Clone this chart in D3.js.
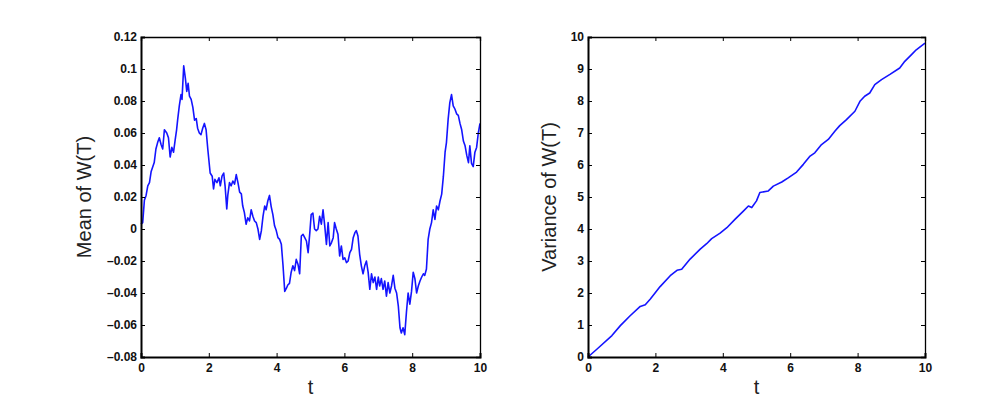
<!DOCTYPE html>
<html><head><meta charset="utf-8">
<script src="https://cdn.jsdelivr.net/npm/d3@7"></script>
<style>body{margin:0;background:#fff}svg{display:block}text{font-family:"Liberation Sans",Arial,sans-serif}</style>
</head><body><svg id="c" width="986" height="418"></svg>
<script>
// ---- data ----
const meanT = [0,0.05,0.10,0.15,0.20,0.25,0.30,0.39,0.44,0.49,0.54,0.59,0.64,0.69,0.76,0.81,0.86,0.91,0.96,1.01,1.05,1.08,1.13,1.18,1.21,1.26,1.31,1.35,1.39,1.43,1.48,1.53,1.58,1.63,1.67,1.72,1.77,1.82,1.87,1.92,1.97,2.04,2.10,2.14,2.18,2.24,2.30,2.34,2.39,2.44,2.48,2.53,2.56,2.61,2.66,2.71,2.76,2.81,2.86,2.91,2.96,3.00,3.05,3.10,3.15,3.20,3.25,3.30,3.35,3.40,3.45,3.50,3.55,3.60,3.65,3.69,3.74,3.79,3.84,3.89,3.94,3.99,4.04,4.09,4.14,4.19,4.24,4.29,4.33,4.38,4.43,4.48,4.53,4.58,4.63,4.68,4.73,4.78,4.83,4.88,4.93,4.98,5.02,5.07,5.12,5.17,5.22,5.27,5.32,5.37,5.42,5.47,5.52,5.57,5.62,5.67,5.71,5.76,5.81,5.86,5.91,5.96,6.01,6.06,6.11,6.16,6.21,6.26,6.31,6.35,6.40,6.45,6.50,6.55,6.60,6.65,6.70,6.75,6.80,6.85,6.90,6.95,7.00,7.04,7.09,7.14,7.19,7.24,7.29,7.34,7.39,7.44,7.49,7.54,7.59,7.64,7.68,7.73,7.78,7.83,7.88,7.93,7.98,8.03,8.08,8.13,8.18,8.23,8.28,8.33,8.37,8.42,8.47,8.52,8.57,8.62,8.67,8.72,8.77,8.82,8.87,8.92,8.97,9.01,9.06,9.11,9.16,9.21,9.26,9.31,9.36,9.41,9.46,9.51,9.56,9.61,9.66,9.70,9.75,9.80,9.85,9.90,9.95,10.00];
const meanV = [0.003,0.004,0.018,0.021,0.027,0.029,0.036,0.0415,0.050,0.054,0.057,0.053,0.050,0.062,0.060,0.057,0.045,0.051,0.048,0.056,0.062,0.068,0.077,0.084,0.081,0.102,0.094,0.086,0.091,0.083,0.081,0.076,0.068,0.069,0.063,0.060,0.059,0.063,0.066,0.062,0.050,0.035,0.033,0.025,0.031,0.029,0.032,0.027,0.033,0.035,0.027,0.0125,0.021,0.029,0.027,0.030,0.028,0.034,0.029,0.023,0.022,0.0145,0.0102,0.003,0.007,0.005,0.012,0.008,0.005,0.004,0.0,-0.0065,-0.0012,0.008,0.0144,0.012,0.0175,0.021,0.014,0.009,0.002,-0.001,-0.0054,-0.0065,-0.0096,-0.023,-0.039,-0.037,-0.035,-0.034,-0.027,-0.023,-0.026,-0.019,-0.022,-0.028,-0.0044,-0.0033,-0.0054,-0.0075,-0.0148,-0.0023,0.009,0.010,0.0,-0.001,0.0,0.008,0.003,0.012,0.002,-0.0096,0.004,-0.0106,-0.0085,-0.0054,0.004,0.0,-0.0033,-0.0169,-0.0106,-0.019,-0.018,-0.021,-0.020,-0.0148,-0.0127,-0.0054,-0.0023,-0.001,-0.0044,-0.0158,-0.023,-0.028,-0.023,-0.020,-0.027,-0.0377,-0.028,-0.0335,-0.030,-0.0377,-0.030,-0.0356,-0.031,-0.0377,-0.0325,-0.042,-0.0335,-0.040,-0.0356,-0.029,-0.037,-0.040,-0.048,-0.0617,-0.065,-0.0617,-0.066,-0.052,-0.040,-0.047,-0.039,-0.027,-0.031,-0.040,-0.0356,-0.0325,-0.030,-0.028,-0.029,-0.025,-0.0065,0.0,0.004,0.012,0.006,0.0144,0.012,0.0175,0.0218,0.033,0.048,0.054,0.0685,0.079,0.084,0.077,0.075,0.072,0.071,0.066,0.062,0.055,0.052,0.046,0.0415,0.052,0.041,0.039,0.048,0.051,0.060,0.066];
const varT = [0,0.27,0.71,0.96,1.25,1.55,1.70,1.85,2.14,2.44,2.64,2.78,3.03,3.33,3.52,3.67,3.92,4.12,4.36,4.61,4.76,4.86,5.00,5.10,5.35,5.50,5.75,5.94,6.19,6.39,6.59,6.73,6.93,7.13,7.33,7.47,7.67,7.92,8.07,8.21,8.36,8.51,8.71,8.96,9.25,9.40,9.60,9.74,10.0];
const varV = [0,0.25,0.67,0.98,1.29,1.58,1.63,1.81,2.20,2.54,2.71,2.74,3.06,3.37,3.54,3.70,3.87,4.04,4.30,4.56,4.72,4.67,4.88,5.14,5.19,5.34,5.47,5.60,5.78,6.02,6.28,6.38,6.64,6.80,7.06,7.23,7.42,7.68,7.99,8.15,8.25,8.51,8.67,8.83,9.03,9.24,9.45,9.60,9.81];
const xTicks = [0,2,4,6,8,10];
const meanTicks = [-0.08,-0.06,-0.04,-0.02,0,0.02,0.04,0.06,0.08,0.1,0.12];
const varTicks = [0,1,2,3,4,5,6,7,8,9,10];

const svg = d3.select("#c");
function panel(opts){
  const {x0,x1,y0,y1,ts,vs,ydom,yticks,yfmt,ylabel,labelX} = opts;
  const g = svg.append("g");
  const x = d3.scaleLinear().domain([0,10]).range([x0,x1]);
  const y = d3.scaleLinear().domain(ydom).range([y1,y0]);
  const pts = ts.map((t,i)=>[t,vs[i]]);
  g.append("path").datum(pts)
    .attr("d", d3.line().x(d=>x(d[0])).y(d=>y(d[1])))
    .attr("fill","none").attr("stroke","#1414ff").attr("stroke-width",1.6).attr("stroke-linejoin","round");
  const tl = 4;
  const axB = g.append("g").attr("transform",`translate(0,${y1})`)
    .call(d3.axisBottom(x).tickValues(xTicks).tickSize(-tl).tickPadding(6).tickFormat(d3.format("d")));
  const axT = g.append("g").attr("transform",`translate(0,${y0})`)
    .call(d3.axisTop(x).tickValues(xTicks).tickSize(-tl).tickFormat(""));
  const axL = g.append("g").attr("transform",`translate(${x0},0)`)
    .call(d3.axisLeft(y).tickValues(yticks).tickSize(-tl).tickPadding(4).tickFormat(yfmt));
  const axR = g.append("g").attr("transform",`translate(${x1},0)`)
    .call(d3.axisRight(y).tickValues(yticks).tickSize(-tl).tickFormat(""));
  [[axB,2],[axT,1.3],[axL,2],[axR,1.3]].forEach(([a,w])=>{
    a.select(".domain").attr("stroke","#000").attr("stroke-width",w);
    a.selectAll(".tick line").attr("stroke","#000");
    a.selectAll("text").attr("fill","#111").style("font-size","12px").style("font-weight","bold")
      .style("font-family","'Liberation Sans',Arial,sans-serif");
  });
  g.append("text").attr("x",(x0+x1)/2).attr("y",y1+37).attr("text-anchor","middle")
    .style("font-size","20px").attr("fill","#222").text("t");
  g.append("text").attr("transform",`translate(${labelX},${(y0+y1)/2}) rotate(-90)`)
    .attr("text-anchor","middle").style("font-size","20px").attr("fill","#222").text(ylabel);
}
panel({x0:141,x1:480,y0:37,y1:357,ts:meanT,vs:meanV,ydom:[-0.08,0.12],yticks:meanTicks,
  yfmt:d=>d===0?"0":(d<0?"\u20130"+d3.format(".2~f")(-d).slice(1):d3.format(".2~f")(d)),
  ylabel:"Mean of W(T)",labelX:91});
panel({x0:588,x1:925,y0:37,y1:357,ts:varT,vs:varV,ydom:[0,10],yticks:varTicks,
  yfmt:d3.format("d"),ylabel:"Variance of W(T)",labelX:556});
</script></body></html>
